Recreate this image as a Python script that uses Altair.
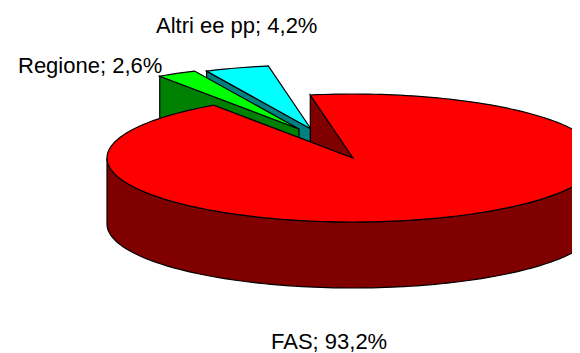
import math
import altair as alt

names = ["FAS", "Regione", "Altri ee pp"]
shares = [93.2, 2.6, 4.2]
labels = ["FAS; 93,2%", "Regione; 2,6%", "Altri ee pp; 4,2%"]
top_colors = ["#ff0000", "#00ff00", "#00ffff"]
side_colors = ["#800000", "#008000", "#008080"]

W, H = 564, 345
M = 8
CX, CY, RX, RY, DEPTH = 353 - M, 158 - M, 246, 64, 66
START_DEG = -10.0   # clockwise from 12 o'clock, where the first slice starts
OFFSETS = {"FAS": (0, 0), "Regione": (-54, -29), "Altri ee pp": (-42, -29)}
LABEL_POS = {"FAS": (271 - M, 349 - M), "Regione": (18 - M, 73 - M), "Altri ee pp": (156 - M, 33 - M)}


def pt(deg, off, drop=0.0):
    a = math.radians(deg)
    return [CX + off[0] + RX * math.sin(a), CY + off[1] - RY * math.cos(a) + drop]


def feature(coords, fill):
    ring = [[round(x, 2), round(y, 2)] for x, y in coords]
    ring.append(ring[0])
    return {"type": "Feature", "properties": {"fill": fill},
            "geometry": {"type": "Polygon", "coordinates": [ring]}}


def arc(a0, a1, off, drop=0.0):
    n = max(2, int(abs(a1 - a0) / 1.5))
    return [pt(a0 + (a1 - a0) * i / n, off, drop) for i in range(n + 1)]


spans = {}
a = START_DEG
for name, share in zip(names, shares):
    spans[name] = (a, a + share * 3.6)
    a += share * 3.6

features = []
# back to front: Altri, Regione, FAS
for i in (2, 1, 0):
    name = names[i]
    a0, a1 = spans[name]
    off = OFFSETS[name]
    apex = [CX + off[0], CY + off[1]]
    apex_low = [apex[0], apex[1] + DEPTH]
    # cut face at the slice's first edge
    features.append(feature([apex, pt(a0, off), pt(a0, off, DEPTH), apex_low], side_colors[i]))
    if name == "FAS":
        # outer wall, front half of the rim
        features.append(feature(arc(90, 270, off) + arc(270, 90, off, DEPTH), side_colors[i]))
    features.append(feature([apex] + arc(a0, a1, off), top_colors[i]))

pie = alt.Chart(alt.Data(values=features)).mark_geoshape(
    stroke="#000000", strokeWidth=1.2, clip=True
).encode(
    fill=alt.Fill("properties.fill:N", scale=None, legend=None)
).project(type="identity", scale=1, translate=[0, 0])

text_layers = []
for name, label in zip(names, labels):
    x, y = LABEL_POS[name]
    text_layers.append(
        alt.Chart(alt.Data(values=[{"label": label}])).mark_text(
            font="Liberation Sans", fontSize=22, align="left", baseline="alphabetic", color="#000000"
        ).encode(x=alt.value(x), y=alt.value(y), text="label:N")
    )

chart = alt.layer(pie, *text_layers).properties(
    width=W, height=H, padding=0, autosize=alt.AutoSizeParams(type="none"), background="#ffffff"
).configure_view(stroke=None)

chart.save("out.html", embed_options={"renderer": "svg", "actions": False})
